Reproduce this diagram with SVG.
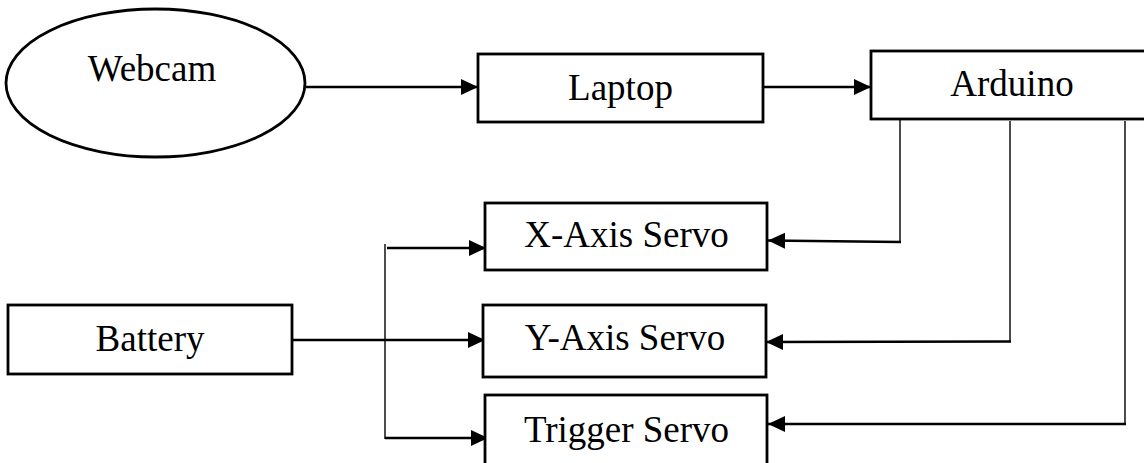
<svg xmlns="http://www.w3.org/2000/svg" width="1144" height="463" viewBox="0 0 1144 463">
  <style>
    .shape { fill: #ffffff; stroke: #000000; stroke-width: 2.8; }
    .label { font-family: "Liberation Serif", "Times New Roman", serif; font-size: 37px; fill: #000000; text-anchor: middle; }
    .wire { fill: none; stroke: #000000; stroke-width: 2.5; }
    .thin { fill: none; stroke: #000000; stroke-width: 1.4; }
  </style>
  <defs>
    <marker id="arrow" markerUnits="userSpaceOnUse" markerWidth="17" markerHeight="17" viewBox="0 0 17 17" refX="17" refY="8.5" orient="auto">
      <path d="M0,0.5 L17,8.5 L0,16.5 Z" fill="#000000"/>
    </marker>
  </defs>

  <g id="connectors">
    <!-- Webcam to Laptop to Arduino -->
    <line class="wire" x1="306" y1="87" x2="478" y2="87" marker-end="url(#arrow)"/>
    <line class="wire" x1="763" y1="87" x2="871" y2="87" marker-end="url(#arrow)"/>

    <!-- Arduino control lines to the servos -->
    <line class="thin" x1="900" y1="119" x2="900" y2="242"/>
    <line class="wire" x1="901" y1="242" x2="768" y2="240.5" marker-end="url(#arrow)"/>
    <line class="thin" x1="1010" y1="121" x2="1010" y2="342"/>
    <line class="wire" x1="1011" y1="341.5" x2="766" y2="342" marker-end="url(#arrow)"/>
    <line class="thin" x1="1125" y1="121" x2="1125" y2="424"/>
    <line class="wire" x1="1126" y1="424" x2="768" y2="424" marker-end="url(#arrow)"/>

    <!-- Battery supply bus -->
    <line class="wire" x1="290" y1="340" x2="485" y2="340" marker-end="url(#arrow)"/>
    <line class="thin" x1="385" y1="244" x2="385" y2="439"/>
    <line class="wire" x1="387" y1="248" x2="486" y2="248" marker-end="url(#arrow)"/>
    <line class="wire" x1="385" y1="438" x2="488" y2="438" marker-end="url(#arrow)"/>
  </g>

  <g id="webcam">
    <ellipse class="shape" cx="155.5" cy="83" rx="149.5" ry="74"/>
    <text class="label" x="152" y="81">Webcam</text>
  </g>

  <g id="laptop">
    <rect class="shape" x="478" y="54" width="285" height="68"/>
    <text class="label" x="620.5" y="100">Laptop</text>
  </g>

  <g id="arduino">
    <rect class="shape" x="871" y="51" width="290" height="68"/>
    <text class="label" x="1012" y="96">Arduino</text>
  </g>

  <g id="x-axis-servo">
    <rect class="shape" x="485" y="203" width="282" height="67"/>
    <text class="label" x="626.5" y="247">X-Axis Servo</text>
  </g>

  <g id="y-axis-servo">
    <rect class="shape" x="483" y="305" width="283" height="72"/>
    <text class="label" x="625" y="350">Y-Axis Servo</text>
  </g>

  <g id="trigger-servo">
    <rect class="shape" x="485" y="395" width="282" height="80"/>
    <text class="label" x="626.5" y="442">Trigger Servo</text>
  </g>

  <g id="battery">
    <rect class="shape" x="8" y="305" width="284" height="69"/>
    <text class="label" x="150" y="351">Battery</text>
  </g>
</svg>
